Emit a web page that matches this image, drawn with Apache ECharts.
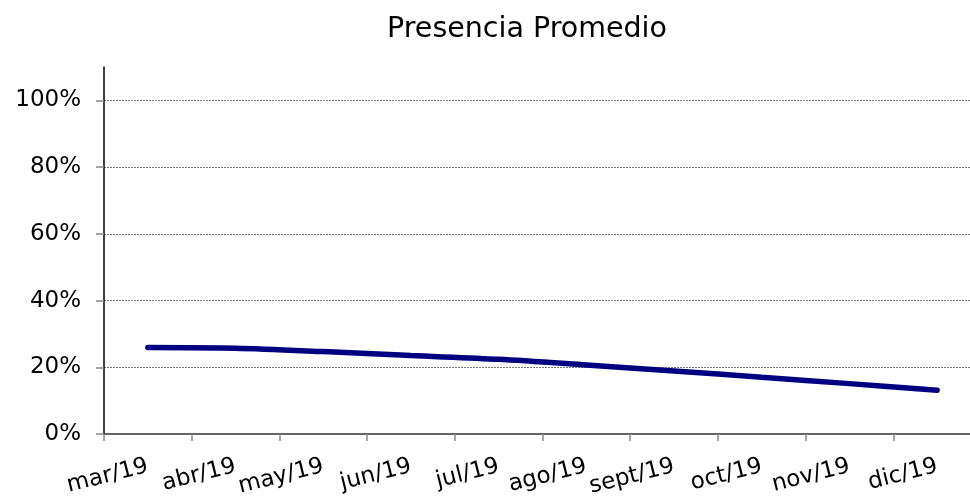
<!DOCTYPE html>
<html>
<head>
<meta charset="utf-8">
<script src="https://cdn.jsdelivr.net/npm/echarts@6/dist/echarts.min.js"></script>
<style>html,body{margin:0;padding:0;background:#fff}#c{width:970px;height:497px}</style>
</head>
<body>
<div id="c"></div>
<script>
const categories = ['mar/19','abr/19','may/19','jun/19','jul/19','ago/19','sept/19','oct/19','nov/19','dic/19'];
const presencia = [25.9, 25.7, 24.7, 23.5, 22.4, 20.7, 18.9, 17.0, 15.1, 13.1];
const yTicks = [0, 20, 40, 60, 80, 100];
const yMax = 110;

const FONT = 'DejaVu Sans';
const chart = echarts.init(document.getElementById('c'), null, {renderer: 'canvas'});
chart.setOption({
  animation: false,
  backgroundColor: '#ffffff',
  title: {
    text: 'Presencia Promedio',
    left: 522, top: 10, textAlign: 'center',
    textStyle: {fontFamily: FONT, fontSize: 28.5, fontWeight: 'normal', color: '#000'}
  },
  grid: {left: 104, top: 67, width: 877, bottom: 63, containLabel: false, outerBoundsMode: 'none'},
  xAxis: {
    type: 'category',
    data: categories,
    boundaryGap: true,
    axisLine: {lineStyle: {color: '#333', width: 1.5}},
    axisTick: {show: true, length: 7, interval: 0, lineStyle: {color: '#888', width: 1.5}},
    axisLabel: {interval: 0, rotate: 14, margin: 32, fontFamily: FONT, fontSize: 23, color: '#000'},
    splitLine: {show: false}
  },
  yAxis: {
    type: 'value',
    min: 0, max: yMax, interval: 20,
    axisLine: {show: true, lineStyle: {color: '#000', width: 1.5}},
    axisTick: {show: true, inside: false, length: 8, customValues: yTicks, lineStyle: {color: '#888', width: 1.5}},
    axisLabel: {margin: 23, customValues: yTicks, formatter: v => v + '%', fontFamily: FONT, fontSize: 23, color: '#000'},
    splitLine: {show: true, showMaxLine: true, showMinLine: false, lineStyle: {color: '#777', type: [2, 1], width: 1}}
  },
  series: [{
    type: 'line',
    data: presencia,
    smooth: 0.3,
    showSymbol: false,
    lineStyle: {color: '#000080', width: 5.5, cap: 'round'},
    itemStyle: {color: '#000080'}
  }]
});
</script>
</body>
</html>
